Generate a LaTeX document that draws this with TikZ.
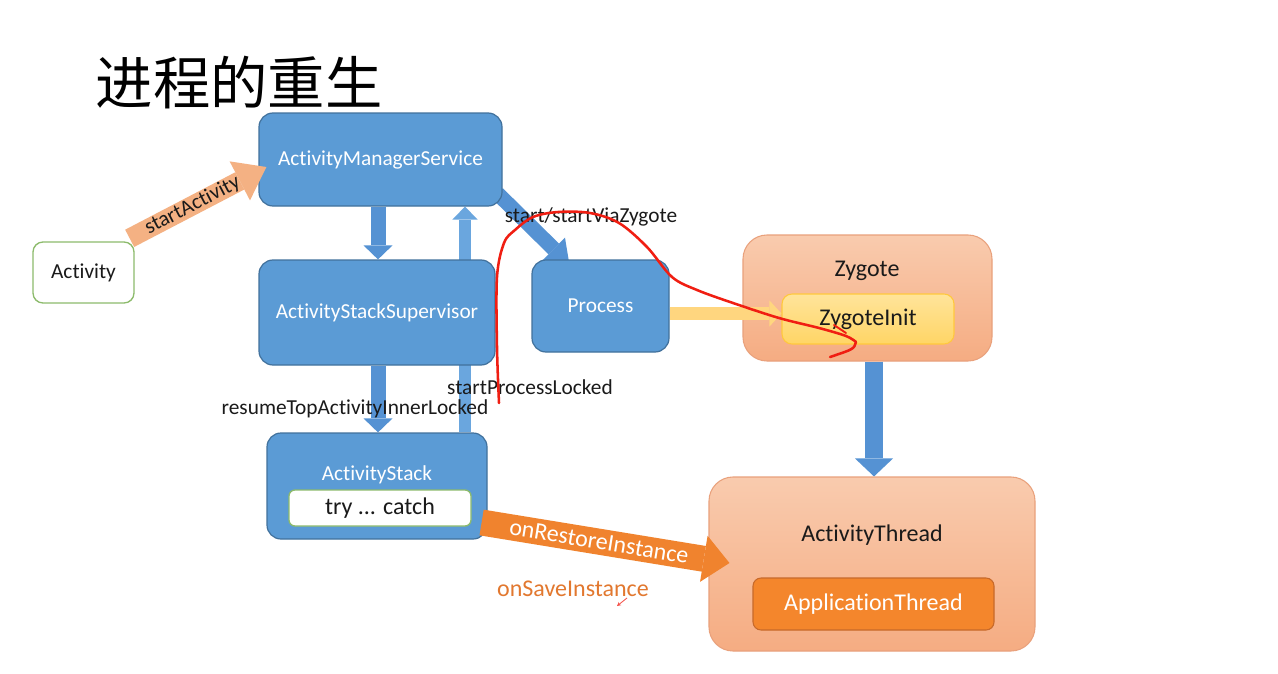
\documentclass[tikz,border=0pt]{standalone}
\usepackage{fontspec}
\setmainfont{Carlito}[Ligatures={NoCommon}]
\newfontfamily\cjk{Noto Sans CJK SC}
\usetikzlibrary{arrows.meta,calc}
\pgfdeclarelayer{back}
\pgfdeclarelayer{bg}
\pgfsetlayers{back,bg,main}
\definecolor{bluefill}{HTML}{5B9BD5}
\definecolor{blueline}{HTML}{41719C}
\definecolor{bluearrow}{HTML}{5592D3}
\definecolor{bluelight}{HTML}{6AA6DE}
\definecolor{greenline}{HTML}{8DBB6C}
\definecolor{orangetop}{HTML}{F9CBAE}
\definecolor{orangebot}{HTML}{F5AC82}
\definecolor{orangeline}{HTML}{E9A17C}
\definecolor{appfill}{HTML}{F4862C}
\definecolor{appline}{HTML}{C7692A}
\definecolor{yeltop}{HTML}{FFE49A}
\definecolor{yelbot}{HTML}{FFD566}
\definecolor{yelline}{HTML}{FFC83D}
\definecolor{yelarrow}{HTML}{FFD67F}
\definecolor{salmon}{HTML}{F4B183}
\definecolor{orangearrow}{HTML}{F0832E}
\definecolor{savetext}{HTML}{E2782F}
\definecolor{pen}{HTML}{F01E12}
\definecolor{ink}{HTML}{1A1A1A}
\begin{document}
\begin{tikzpicture}[x=0.75pt,y=-0.75pt,
  f16/.style={font=\fontsize{16}{19}\selectfont},
  f18/.style={font=\fontsize{18}{21}\selectfont},
  bluebox/.style={draw=blueline, line width=0.9pt, fill=bluefill, rounded corners=10.5pt, text=white, f16, inner sep=0pt},
  whitebox/.style={draw=greenline, line width=1pt, fill=white, text=ink, inner sep=0pt},
  orangebox/.style={draw=orangeline, line width=0.8pt, top color=orangetop, bottom color=orangebot, rounded corners=18pt, inner sep=0pt},
  lbl/.style={text=ink, f16, inner sep=0pt},
  blockarrow/.style n args={4}{draw=#1, line width=#2, -{Triangle[width=#3, length=#4, line width=0pt]}},
]
\useasboundingbox (0,0) rectangle (1278,674);
\begin{pgfonlayer}{back}
\fill[white] (0,0) rectangle (1278,674);
\end{pgfonlayer}

% title
\node[inner sep=0pt, text=black] (title) at (239,83) {\cjk\fontsize{43}{50}\selectfont 进程的重生};

% boxes
\node[bluebox, minimum width=182.25pt, minimum height=69.75pt] (ams) at (380.5,159.5) {ActivityManagerService};
\node[bluebox, minimum width=177pt, minimum height=78.75pt] (ass) at (377,312.5) {ActivityStackSupervisor};
\node[bluebox, minimum width=102.75pt, minimum height=69pt] (proc) at (600.5,306) {Process};
\node[bluebox, minimum width=165pt, minimum height=79.5pt] (as) at (377,486) {};
\node[text=white, f16, inner sep=0pt] (astext) at (377,475) {ActivityStack};
\node[whitebox, rounded corners=4.5pt, minimum width=136.5pt, minimum height=27pt, f18] (try) at (380,508) {try ... catch};
\node[whitebox, rounded corners=7.5pt, minimum width=75.75pt, minimum height=45.75pt, f16] (act) at (83.5,272.5) {Activity};

\node[orangebox, minimum width=186.75pt, minimum height=94.5pt] (zyg) at (867.5,298) {};
\node[text=ink, f18, inner sep=0pt] (zygtext) at (867,271) {Zygote};
\node[draw=yelline, line width=0.8pt, top color=yeltop, bottom color=yelbot, rounded corners=7.5pt, minimum width=129pt, minimum height=37.5pt, inner sep=0pt, text=ink, f18] (zinit) at (868,319) {ZygoteInit};

\node[orangebox, minimum width=244.5pt, minimum height=130.5pt] (at) at (872,564) {};
\node[text=ink, f18, inner sep=0pt] (attext) at (872,535) {ActivityThread};
\node[draw=appline, line width=0.8pt, fill=appfill, rounded corners=6pt, minimum width=180.75pt, minimum height=39pt, inner sep=0pt, text=white, f18] (app) at (873.5,604) {ApplicationThread};

% connectors behind boxes
\begin{pgfonlayer}{bg}
\draw[blockarrow={bluelight}{9.4pt}{19pt}{9.75pt}] ($(as.north)+(88,0)$) -- ($(ams.south)+(84.5,0)$);
\draw[blockarrow={bluearrow}{11.25pt}{24pt}{16.5pt}] ($(ams.south east)+(-5,-13)$) -- ($(proc.north west)+(38,5)$);
\end{pgfonlayer}

\draw[blockarrow={bluearrow}{11.25pt}{21.75pt}{10.5pt}] ($(ams.south)+(-2.5,0)$) -- ($(ass.north)+(1,0)$);
\draw[blockarrow={bluearrow}{11.25pt}{21.75pt}{10.5pt}] ($(ass.south)+(1,0)$) -- ($(as.north)+(1,0)$);
\draw[blockarrow={bluearrow}{13.5pt}{28.5pt}{13.5pt}] ($(zyg.south)+(6.5,0)$) -- ($(at.north)+(2,0)$);
\draw[blockarrow={yelarrow}{9.75pt}{19.5pt}{9pt}] ($(proc.east)+(0,7.5)$) -- ($(zinit.west)+(0,-5.5)$);

\draw[blockarrow={salmon}{14.6pt}{33pt}{22.5pt}] ($(act.north east)+(-5,-3)$) -- ($(ams.west)+(8,7.5)$)
  node[pos=0.46, sloped, text=ink, f16, inner sep=0pt] (sa) {startActivity};
\draw[blockarrow={orangearrow}{19.5pt}{35pt}{19.5pt}] ($(as.east)+(-6,36.5)$) -- ($(at.west)+(21,-1)$)
  node[pos=0.474, sloped, text=white, f18, inner sep=0pt] (ori) {onRestoreInstance};

% labels
\node[lbl] (rtl) at (355,409) {resumeTopActivityInnerLocked};
\node[lbl] (spl) at (530,387) {startProcessLocked};
\node[lbl] (ssz) at (591,217) {start/startViaZygote};
\node[text=savetext, f18, inner sep=0pt] (osi) at (573,589) {onSaveInstance};

% red pen strokes
\draw[pen, line width=1.9pt, line cap=round, line join=round] plot[smooth, tension=0.55] coordinates {
 (499,403) (497,347) (497,277) (504,243) (515,230) (533,217) (558,212) (590,213) (619,223)
 (647,247) (672,277) (697,290) (733,303) (779,318) (819,328) (846,336) (856,342)};
\draw[pen, line width=1.9pt, line cap=round, line join=round] (856,342) .. controls (854,349) .. (830,357);
\draw[pen, line width=1.4pt, line cap=round] (834,325) -- (846,333);
\draw[pen!70!pink, line width=0.6pt, -{Stealth[length=3pt,width=3pt]}] (627,598) -- (617,606);
\end{tikzpicture}
\end{document}
